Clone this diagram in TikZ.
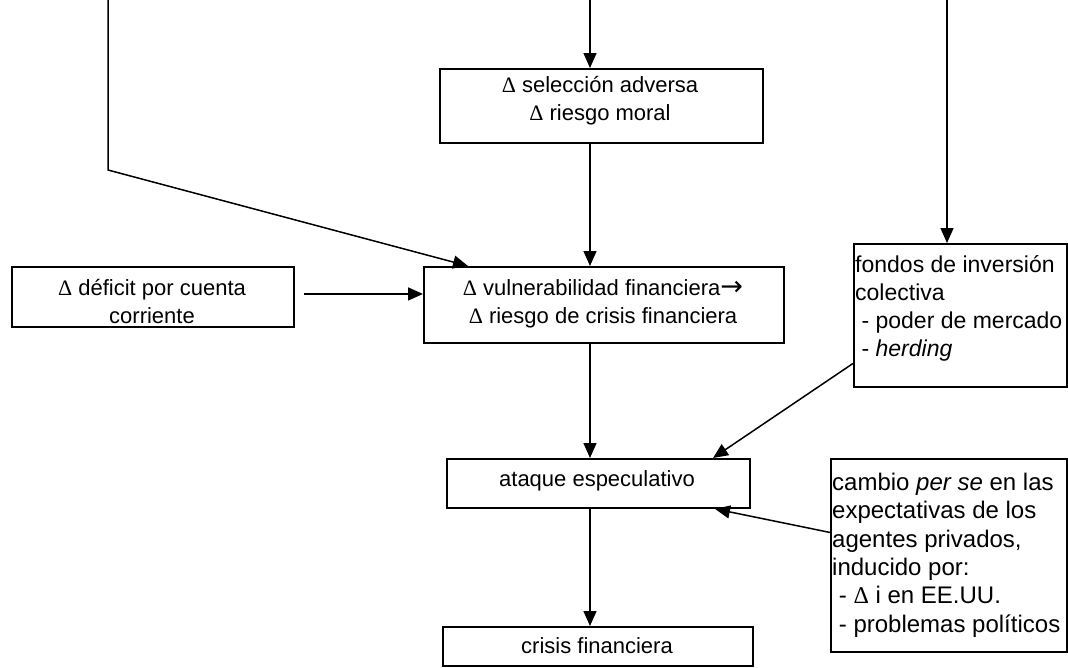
\documentclass[tikz,border=0pt]{standalone}
\usepackage{fontspec}
\setmainfont{Liberation Sans}
\newfontfamily\symf{Liberation Serif}
\newfontfamily\arrf{DejaVu Sans}
\usetikzlibrary{arrows.meta}
\newcommand{\D}{{\symf Δ}}
\newcommand{\ra}{{\arrf\fontsize{27}{28}\selectfont →}}
\newcommand{\fl}{\rule{0pt}{23pt}}
\tikzset{
  box/.style={draw, line width=1.9pt, rectangle, inner sep=0pt, anchor=north west},
  txt/.style={inner sep=0pt, font=\fontsize{22}{28}\selectfont},
  ctxt/.style={txt, anchor=north, align=center},
  ltxt/.style={inner sep=0pt, anchor=north west, align=left},
  arr/.style={line width=1.5pt, -{Triangle[length=15pt,width=13pt]}},
  ln/.style={line width=1.5pt}
}
\begin{document}
\begin{tikzpicture}[x=1pt,y=-1pt]
\useasboundingbox (0,0) rectangle (1068,667);

% boxes
\node[box, minimum width=323pt, minimum height=74pt] (sel) at (439,68) {};
\node[box, minimum width=360pt, minimum height=76pt] (vul) at (423,266) {};
\node[box, minimum width=282pt, minimum height=60pt] (def) at (11,266) {};
\node[box, minimum width=213pt, minimum height=143pt] (fon) at (853,243) {};
\node[box, minimum width=303pt, minimum height=49pt] (ata) at (446,458) {};
\node[box, minimum width=236pt, minimum height=193pt] (cam) at (830,458) {};
\node[box, minimum width=310pt, minimum height=39pt] (cri) at (442,626) {};

% texts
\node[ctxt] (tsel) at (600,69) {\fl\D{} selección adversa\\\D{} riesgo moral};
\node[ctxt] (tvul) at (603,272) {\fl\D{} vulnerabilidad financiera\ra\\\D{} riesgo de crisis financiera};
\node[ctxt] (tdef) at (152,272) {\fl\D{} déficit por cuenta\\corriente};
\node[ltxt, font=\fontsize{23}{28}\selectfont] (tfon) at (855,249) {\fl fondos de inversión\\colectiva\\\ - poder de mercado\\\ - \textit{herding}};
\node[ctxt] (tata) at (597,463) {\fl ataque especulativo};
\node[ltxt, font=\fontsize{24}{28.4}\selectfont] (tcam) at (832,467) {\fl cambio \textit{per se} en las\\expectativas de los\\agentes privados,\\inducido por:\\\ - \D{} i en EE.UU.\\\ - problemas políticos};
\node[ctxt] (tcri) at (597,630) {\fl crisis financiera};

% free ends and reference columns
\coordinate (srcL) at (108,0);
\coordinate (bendL) at (108,170);
\coordinate (tipL) at (468,0);
\coordinate (srcM) at (590,0);
\coordinate (col) at (590,0);
\coordinate (srcR) at (947,0);
\coordinate (tipF) at (713,0);
\coordinate (tipC) at (715,0);

% connectors
\draw[arr] (srcL) -- (bendL) -- (vul.north -| tipL);
\draw[arr] (srcM) -- (sel.north -| col);
\draw[arr] (sel.south -| col) -- (vul.north -| col);
\draw[arr] (srcR) -- (fon.north -| srcR);
\draw[arr] ([xshift=9pt,yshift=3pt]def.east) -- ([yshift=3pt]def.east -| vul.west);
\draw[arr] (vul.south -| col) -- (ata.north -| col);
\draw[arr] ([yshift=-48pt]fon.west) -- (ata.north -| tipF);
\draw[arr] ([yshift=23pt]cam.west) -- (ata.south -| tipC);
\draw[arr] (ata.south -| col) -- (cri.north -| col);
\end{tikzpicture}
\end{document}
